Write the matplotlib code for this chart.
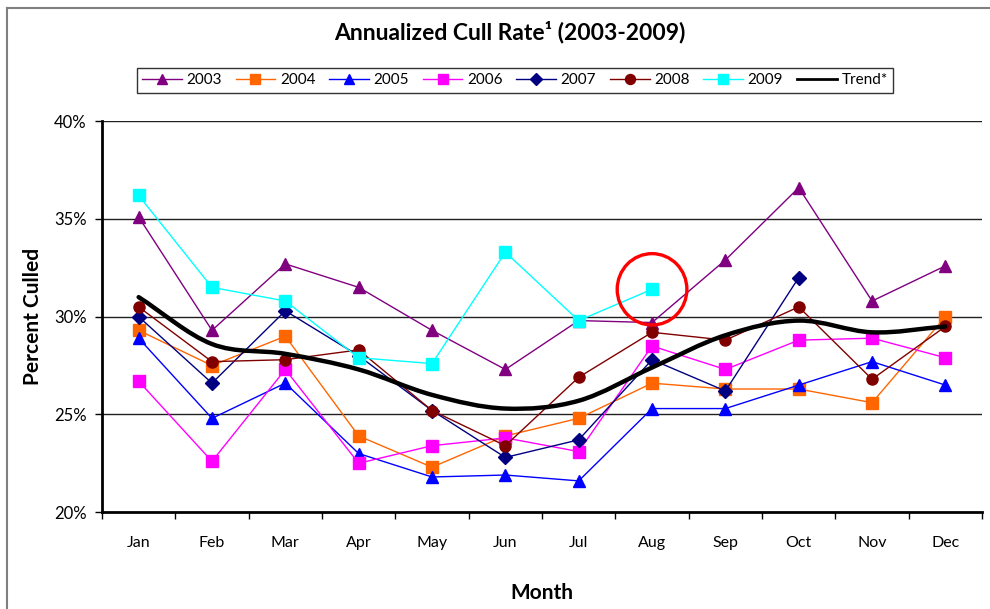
import numpy as np
import matplotlib
matplotlib.use("Agg")
import matplotlib.pyplot as plt
from matplotlib.path import Path
from matplotlib.patches import PathPatch, Ellipse
from matplotlib.lines import Line2D

plt.rcParams['font.family'] = ['Lato', 'DejaVu Sans']

months = ["Jan", "Feb", "Mar", "Apr", "May", "Jun",
          "Jul", "Aug", "Sep", "Oct", "Nov", "Dec"]

# percent culled per month
y2003 = [35.1, 29.3, 32.7, 31.5, 29.3, 27.3, 29.8, 29.7, 32.9, 36.6, 30.8, 32.6]
y2004 = [29.3, 27.5, 29.0, 23.9, 22.3, 23.9, 24.8, 26.6, 26.3, 26.3, 25.6, 30.0]
y2005 = [28.9, 24.8, 26.6, 23.0, 21.8, 21.9, 21.6, 25.3, 25.3, 26.5, 27.7, 26.5]
y2006 = [26.7, 22.6, 27.3, 22.5, 23.4, 23.8, 23.1, 28.5, 27.3, 28.8, 28.9, 27.9]
y2007 = [30.0, 26.6, 30.3, 28.0, 25.2, 22.8, 23.7, 27.8, 26.2, 32.0]
y2008 = [30.5, 27.7, 27.8, 28.3, 25.2, 23.4, 26.9, 29.2, 28.8, 30.5, 26.8, 29.5]
y2009 = [36.2, 31.5, 30.8, 27.9, 27.6, 33.3, 29.8, 31.4]
trend = [31.0, 28.6, 28.1, 27.3, 26.0, 25.3, 25.7, 27.4, 29.05, 29.8, 29.2, 29.5]

series = [
    ("2003", y2003, "#800080", "^"),
    ("2004", y2004, "#FF6600", "s"),
    ("2005", y2005, "#0000FF", "^"),
    ("2006", y2006, "#FF00FF", "s"),
    ("2007", y2007, "#000080", "D"),
    ("2008", y2008, "#800000", "o"),
    ("2009", y2009, "#00FFFF", "s"),
]


def smooth_path(xs, ys):
    # catmull-rom style bezier, like a spreadsheet "smoothed line"
    n = len(xs)
    pts = np.column_stack([xs, ys]).astype(float)
    tang = np.zeros_like(pts)
    for i in range(n):
        if i == 0:
            tang[i] = pts[1] - pts[0]
        elif i == n - 1:
            tang[i] = pts[-1] - pts[-2]
        else:
            tang[i] = (pts[i + 1] - pts[i - 1]) / 2
    verts = [pts[0]]
    codes = [Path.MOVETO]
    for i in range(n - 1):
        verts += [pts[i] + tang[i] / 3, pts[i + 1] - tang[i + 1] / 3, pts[i + 1]]
        codes += [Path.CURVE4] * 3
    return Path(verts, codes)


fig = plt.figure(figsize=(9.9, 6.09), dpi=100)
ax = fig.add_axes([0.103, 0.159, 0.889, 0.642])

x = np.arange(len(months))
handles = []
for name, vals, col, mk in series:
    ms = 8.5 if mk == "^" else (7 if mk == "D" else 8)
    h, = ax.plot(x[:len(vals)], vals, color=col, lw=1.0, marker=mk,
                 markersize=ms, markerfacecolor=col, markeredgecolor=col,
                 label=name, zorder=3)
    handles.append(h)

ax.add_patch(PathPatch(smooth_path(x, trend), facecolor="none",
                       edgecolor="black", lw=3.2, zorder=4,
                       capstyle="round", joinstyle="round"))
handles.append(Line2D([], [], color="black", lw=2, label="Trend*"))

# red circle around the latest 2009 value
ax.add_patch(Ellipse((x[len(y2009) - 1], y2009[-1]), 0.95, 3.65,
                     facecolor="none", edgecolor="#FF0000", lw=2.4, zorder=5))

ax.set_xlim(-0.5, 11.5)
ax.set_ylim(20, 40)
ax.set_yticks([20, 25, 30, 35, 40])
ax.set_yticklabels(["20%", "25%", "30%", "35%", "40%"], fontsize=12)
ax.set_xticks(x)
ax.set_xticklabels(months, fontsize=11.5)
ax.set_xticks(np.arange(-0.5, 12, 1), minor=True)
ax.tick_params(axis="x", which="major", length=0, pad=17)
ax.tick_params(axis="x", which="minor", length=5, width=1, direction="out")
ax.tick_params(axis="y", length=5, width=1, direction="out", pad=6)

for v in [25, 30, 35, 40]:
    ax.axhline(v, color="#202020", lw=1.0, zorder=1)

for s in ["top", "right"]:
    ax.spines[s].set_visible(False)
for s in ["left", "bottom"]:
    ax.spines[s].set_linewidth(2)

ax.set_xlabel("Month", fontsize=15, fontweight="bold", labelpad=24)
ax.set_ylabel("Percent Culled", fontsize=15, fontweight="bold", labelpad=8)

fig.text(0.515, 0.947, "Annualized Cull Rate\u00b9 (2003-2009)",
         ha="center", va="center", fontsize=16.5, fontweight="bold")

leg = fig.legend(handles=handles, loc="center", bbox_to_anchor=(0.52, 0.868),
                 ncol=8, frameon=True, fancybox=False, fontsize=11,
                 handlelength=2.6, handletextpad=0.3, columnspacing=0.9,
                 borderpad=0.35, markerscale=0.9)
leg.get_frame().set_edgecolor("black")
leg.get_frame().set_linewidth(1.0)

# outer chart-area border (left and top visible)
fig.add_artist(Line2D([0.007, 0.007], [0, 0.987], color="#808080", lw=1.5,
                      transform=fig.transFigure))
fig.add_artist(Line2D([0.007, 1.0], [0.987, 0.987], color="#808080", lw=1.5,
                      transform=fig.transFigure))

fig.savefig("out.png", dpi=100)
